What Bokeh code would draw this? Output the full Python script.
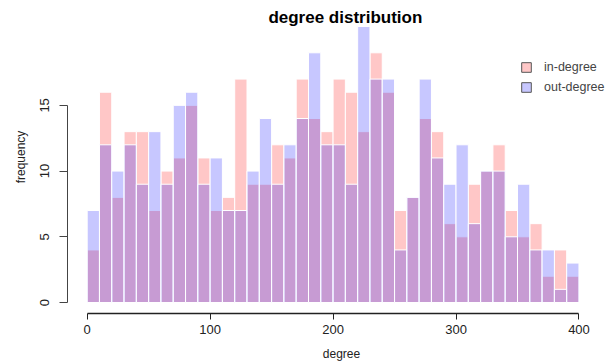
from bokeh.plotting import figure
from bokeh.models import Range1d, FixedTicker, Legend, LegendItem, Label, LinearAxis
from bokeh.embed import file_html
from bokeh.resources import INLINE

# ---- data ----
bin_edges = [0, 10, 20, 30, 40, 50, 60, 70, 80, 90, 100, 110, 120, 130, 140, 150,
             160, 170, 180, 190, 200, 210, 220, 230, 240, 250, 260, 270, 280, 290,
             300, 310, 320, 330, 340, 350, 360, 370, 380, 390, 400]
in_degree = [4, 16, 8, 13, 13, 7, 10, 11, 15, 11, 7, 8, 17, 9, 9, 12, 11, 17, 14, 13,
             17, 16, 13, 19, 16, 7, 8, 14, 13, 6, 5, 9, 10, 12, 7, 5, 6, 2, 4, 2]
out_degree = [7, 12, 10, 12, 9, 13, 9, 15, 16, 9, 11, 7, 7, 10, 14, 9, 12, 14, 19, 12,
              12, 9, 21, 17, 17, 4, 8, 17, 11, 9, 12, 6, 10, 10, 5, 9, 4, 4, 1, 3]
x_ticks = [0, 100, 200, 300, 400]
y_ticks = [0, 5, 10, 15]
series_names = ["in-degree", "out-degree"]

FONT = "Liberation Sans"
PINK = "#ff0000"
BLUE = "#0000ff"
ALPHA = 0.22
NAN = float("nan")

p = figure(width=615, height=363, output_backend="svg", toolbar_location=None,
           x_range=Range1d(-16, 429.7), y_range=Range1d(-0.837, 22.98), title=None,
           min_border_left=67, min_border_right=0, min_border_top=0, min_border_bottom=50,
           x_axis_type=None, y_axis_type=None)
p.outline_line_color = None
p.xgrid.visible = False
p.ygrid.visible = False

lefts = bin_edges[:-1]
rights = bin_edges[1:]
zeros = [0] * len(lefts)

p.quad(left=lefts, right=rights, bottom=zeros, top=in_degree,
       fill_color=PINK, fill_alpha=ALPHA, line_color="white", line_width=1)
p.quad(left=lefts, right=rights, bottom=zeros, top=out_degree,
       fill_color=BLUE, fill_alpha=ALPHA, line_color="white", line_width=1)

# legend-only renderers (hold no visible data)
leg_in = p.quad(left=[NAN], right=[NAN], bottom=[NAN], top=[NAN], fill_color=PINK,
                fill_alpha=ALPHA, line_color="#555555", line_width=1)
leg_out = p.quad(left=[NAN], right=[NAN], bottom=[NAN], top=[NAN], fill_color=BLUE,
                 fill_alpha=ALPHA, line_color="#555555", line_width=1)

# axes
xaxis = LinearAxis(ticker=FixedTicker(ticks=x_ticks), bounds=(0, 400), axis_label="degree")
yaxis = LinearAxis(ticker=FixedTicker(ticks=y_ticks), bounds=(0, 15), axis_label="frequency")
for ax in (xaxis, yaxis):
    ax.minor_tick_line_color = None
    ax.major_tick_in = 0
    ax.major_label_text_font = FONT
    ax.major_label_text_font_size = "13px"
    ax.major_label_text_color = "#222222"
    ax.axis_label_text_font = FONT
    ax.axis_label_text_font_size = "12px"
    ax.axis_label_text_font_style = "normal"
    ax.axis_label_text_color = "#222222"
xaxis.major_tick_out = 6
xaxis.major_label_standoff = 5
xaxis.axis_label_standoff = 10
xaxis.axis_line_color = "#222222"
xaxis.axis_line_width = 1.5
xaxis.major_tick_line_color = "#222222"
yaxis.major_tick_out = 8
yaxis.major_label_standoff = 10
yaxis.axis_label_standoff = 10
yaxis.major_label_orientation = "vertical"
yaxis.axis_line_color = "#444444"
yaxis.axis_line_width = 1
yaxis.major_tick_line_color = "#444444"
p.add_layout(xaxis, "below")
p.add_layout(yaxis, "left")

legend = Legend(items=[LegendItem(label=series_names[0], renderers=[leg_in]),
                       LegendItem(label=series_names[1], renderers=[leg_out])],
                location=(453, 219), orientation="vertical",
                label_text_font=FONT, label_text_font_size="12.5px", label_text_color="#444444",
                glyph_width=12, glyph_height=12, label_standoff=12, label_height=12,
                spacing=6, padding=0, margin=0,
                border_line_color=None, background_fill_alpha=0)
p.add_layout(legend, "center")

title = Label(x=210, y=21.69, x_units="data", y_units="data", text="degree distribution",
              text_font=FONT, text_font_size="17px", text_font_style="bold",
              text_color="#000000", text_align="center", text_baseline="middle")
p.add_layout(title)

open("out.html", "w").write(file_html(p, INLINE))
